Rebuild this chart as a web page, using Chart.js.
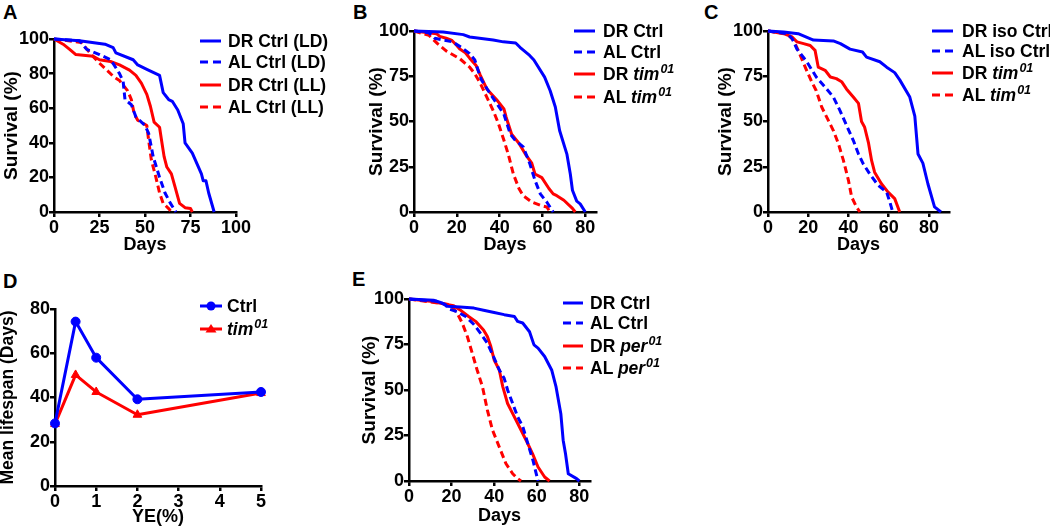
<!DOCTYPE html>
<html><head><meta charset="utf-8">
<script src="https://cdn.jsdelivr.net/npm/chart.js@4"></script>
<style>
body{margin:0;width:1050px;height:530px;background:#fff;position:relative;overflow:hidden;font-family:'Liberation Sans',Arial,sans-serif;font-weight:bold;color:#000}
canvas{position:absolute}
.plbl{position:absolute;font-size:20px;line-height:20px}
.ltxt{position:absolute;font-size:17.5px;line-height:20px;white-space:nowrap}
.lsym{position:absolute}
sup{font-size:12.5px;position:relative;top:-0.6em;vertical-align:baseline;margin-left:1px}
</style></head><body>
<div class="plbl" style="left:3px;top:2px">A</div>
<div class="plbl" style="left:353px;top:2px">B</div>
<div class="plbl" style="left:704px;top:2px">C</div>
<div class="plbl" style="left:3px;top:271px">D</div>
<div class="plbl" style="left:352px;top:269px">E</div>
<canvas id="cA"></canvas><canvas id="cB"></canvas><canvas id="cC"></canvas><canvas id="cD"></canvas><canvas id="cE"></canvas>
<script>
// ---------- Panel A ----------
const aXTicks = [0, 25, 50, 75, 100];
const aYTicks = [0, 20, 40, 60, 80, 100];
const aDrLdDays = [0,14,28,32.5,34,43.5,46,51,58,60,63,65,68,71,72,76,81,82,83.5,85,88];
const aDrLdSurv = [100,99,97,95,92,88,85,82.5,79,69,65,64,59,51,40,34,22,18,18,11,0];
const aAlLdDays = [0,14,18,25,31,33,36,38,39,42.5,45,47,50,52,54.5,58,61,64,67];
const aAlLdSurv = [100,99,94,91,88,85,80,75.5,65,62,55,53,50,45.5,32,20,11,5,0];
const aDrLlDays = [0,5,8.6,12,21.5,25,31,36,41.5,45,48,51,53,55,58,59,60.5,62,64.5,66.5,69,72,75,76];
const aDrLlSurv = [100,97,94,91,90,88,87,85,82,79,74.5,68,61,52,49,42,32,26,22,14.5,5,2.5,2,0];
const aAlLlDays = [0,15,20.5,25,29,33,36,40.5,42.5,44,46,51,52,53.5,56,58,60,63,64.5];
const aAlLlSurv = [100,98,91,86,82,78,76,70,65,57,53,50,41.5,30,20,11,5,2,0];
// ---------- Panel B ----------
const survYTicks = [0, 25, 50, 75, 100];
const bXTicks = [0, 20, 40, 60, 80];
const bDrCtrlDays = [0,13.6,23,26,37,41.7,47.5,49.5,54,56,61,63.6,66,68,71.4,73,74,76,77.6,80];
const bDrCtrlSurv = [100,99.5,98,96.7,95,94,93.4,91,86.5,84,74.5,67,58,45,32,21,12,6,4.5,0];
const bAlCtrlDays = [0,7,9.7,13.6,18,22,26,28.4,30,31.5,35.5,38.6,42,45,47,51,54,56.5,59,62,65];
const bAlCtrlSurv = [100,99,96,95,94,91,87.5,84,78,73,65.5,60,54,43,40,36,27,17.5,10,5.5,0];
const bDrTimDays = [0,10.5,12,15,17.5,20,21.4,24,26,29,31,34,38.6,42,43,45.6,49,52,55,56.5,59.7,63,65,66.7,70,74,75.3];
const bDrTimSurv = [100,98.5,97,96,95,92,90,88,85,81,75.5,68,62,57,52.5,43,38,32,27,21,19,13,10,9,6.5,2,0];
const bAlTimDays = [0,7,11,15,21.4,26,28.4,31,34,37,39.4,42,44,46.4,49,51,55,59,62,63.6];
const bAlTimSurv = [100,97.6,93,89,84.7,80,76.4,71,63.5,56,49,39.6,32,21,13,9,5.5,3.7,2.8,0];
// ---------- Panel C ----------
const cXTicks = [0, 20, 40, 60, 80];
const cDrCtrlDays = [0,7.8,15,22.6,32.5,36,40.8,47,49,55.6,59,63,65.5,70.5,73,74.6,77,79.5,82.8,86];
const cDrCtrlSurv = [100,99.5,98.5,95,94.5,93,90,88.4,85.6,83,80,77,73,63.5,53,32,27,15.6,2.8,0];
const cAlCtrlDays = [0,9.4,12,14.4,19.3,24,28.4,32.5,35.8,39,42.4,45,47.3,50.6,54.8,59,60.6,62];
const cAlCtrlSurv = [100,98.5,95.8,90,83,74.6,69,63.5,56,48,39.6,32,26.7,21,14.7,11,5.5,0];
const cDrTimDays = [0,7.8,12,14.4,17.7,21,23.4,25,28.4,31,34,36.6,39,42.4,45,46.5,48,50,51.5,53,56.4,59.7,63,65.5];
const cDrTimSurv = [100,98.5,96.7,94,93,92,89.3,80,78.3,74.6,73.7,72,68,63.5,60,50,47,38,28.5,22,15.6,11,7.4,0];
const cAlTimDays = [0,9.4,12.7,15,19.3,21.8,24,26.7,30,32.5,35,37.5,40,41.6,44,45.7];
const cAlTimSurv = [100,98.5,95,89.3,78,71.8,67,58,50.6,45,37.8,28.5,17.5,8.3,2.8,0];
// ---------- Panel D ----------
const dXTicks = [0, 1, 2, 3, 4, 5];
const dYTicks = [0, 20, 40, 60, 80];
const dYe = [0, 0.5, 1, 2, 5];
const dCtrl = [28.3, 74.3, 58, 39.2, 42.5];
const dTim = [28, 50.2, 42.5, 32.2, 42];
// ---------- Panel E ----------
const eXTicks = [0, 20, 40, 60, 80];
const eDrCtrlDays = [0,11.5,15.5,17.9,24,30.5,35,40,44.7,49.5,51,53.4,56.6,58.7,60.6,63.7,67,69,71.3,72.4,73.5,74.8,78.7,80];
const eDrCtrlSurv = [100,99.3,97.8,96,95.6,95,93.8,92.6,91.4,90.4,87.7,86.8,82,74.8,73,68.4,61,52,37,22.4,15,4,1.3,0];
const eAlCtrlDays = [0,13,17,18.7,22.6,26.6,30.5,33.7,36.8,40,42.4,44.7,46.3,48.7,51,53.4,55.8,58.2,60.6];
const eAlCtrlSurv = [100,98.7,97,94.5,93,90.4,86,81,75.7,67.5,61,56.4,50,42.6,35.3,30,20.6,11.4,0];
const eDrPerDays = [0,10,21,24,28,31.3,35,36.8,38.4,40,42.4,44,46.3,48.7,52.6,55,58,60.6,63.7,66];
const eDrPerSurv = [100,98.7,96.3,94,90.4,87.7,83,79.4,74,66.5,61,52,42.6,37,28,22.4,15,7.7,2.2,0];
const eAlPerDays = [0,19.4,22.6,25,27.4,29.7,32,34.5,36.8,39.2,42.4,45.5,48.7,51,52.6];
const eAlPerSurv = [100,96.9,92.3,86.8,79.4,70.2,61,51.8,39,28,18.7,9.6,4,1.3,0];

const BLUE = '#0000ff', RED = '#ff0000';
const FONT = "'Liberation Sans', Arial, sans-serif";
const DASH = [7, 4];

function pts(xs, ys) { return xs.map((x, i) => ({x: x, y: ys[i]})); }
function ser(xs, ys, color, dashed) {
  return {data: pts(xs, ys), borderColor: color, backgroundColor: color, borderWidth: 3,
    borderDash: dashed ? DASH : [], pointRadius: 0, clip: false, fill: false, tension: 0,
    borderJoinStyle: 'round'};
}
function scale(isX, min, max, tickVals, title, tSize, fit) {
  return {
    type: 'linear', min: min, max: max, position: isX ? 'bottom' : 'left',
    afterBuildTicks: s => { s.ticks = tickVals.map(v => ({value: v})); },
    afterFit: s => { if (isX) s.height = fit; else s.width = fit; },
    grid: {drawOnChartArea: false, drawTicks: true, tickLength: 5, tickWidth: 2.5, tickColor: '#000', lineWidth: 2.5, color: '#000'},
    border: {display: true, color: '#000', width: 2.5},
    ticks: {color: '#000', font: {family: FONT, size: 18, weight: 'bold'}, padding: 0, autoSkip: false, maxRotation: 0},
    title: {display: true, text: title, color: '#000', font: {family: FONT, size: tSize, weight: 'bold'}, padding: 0}
  };
}
function make(id, g, datasets, xs, ys) {
  const padTop = 12, padRight = 25;
  const c = document.getElementById(id);
  const W = g.Wy + (g.X1 - g.X0) + padRight, H = padTop + (g.Yb - g.Yt) + g.Hx;
  c.width = W; c.height = H;
  c.style.left = (g.X0 - g.Wy) + 'px'; c.style.top = (g.Yt - padTop) + 'px';
  c.style.width = W + 'px'; c.style.height = H + 'px';
  new Chart(c, {
    type: 'line',
    data: {datasets: datasets},
    options: {
      responsive: false, animation: false, devicePixelRatio: 1,
      layout: {padding: {top: padTop, right: padRight, left: 0, bottom: 0}},
      plugins: {legend: {display: false}, tooltip: {enabled: false}},
      scales: {x: xs, y: ys}
    }
  });
}

make('cA', {X0: 54, X1: 236, Yt: 39, Yb: 212, Wy: 54, Hx: 44}, [
  ser(aDrLdDays, aDrLdSurv, BLUE, false), ser(aAlLdDays, aAlLdSurv, BLUE, true),
  ser(aDrLlDays, aDrLlSurv, RED, false), ser(aAlLlDays, aAlLlSurv, RED, true)],
  scale(true, 0, 100, aXTicks, 'Days', 18, 44), scale(false, 0, 100, aYTicks, 'Survival (%)', 19, 54));

make('cB', {X0: 414, X1: 596, Yt: 31, Yb: 212, Wy: 49, Hx: 44}, [
  ser(bDrCtrlDays, bDrCtrlSurv, BLUE, false), ser(bAlCtrlDays, bAlCtrlSurv, BLUE, true),
  ser(bDrTimDays, bDrTimSurv, RED, false), ser(bAlTimDays, bAlTimSurv, RED, true)],
  scale(true, 0, 85, bXTicks, 'Days', 18, 44), scale(false, 0, 100, survYTicks, 'Survival (%)', 19, 49));

make('cC', {X0: 768, X1: 949, Yt: 31, Yb: 212, Wy: 54, Hx: 44}, [
  ser(cDrCtrlDays, cDrCtrlSurv, BLUE, false), ser(cAlCtrlDays, cAlCtrlSurv, BLUE, true),
  ser(cDrTimDays, cDrTimSurv, RED, false), ser(cAlTimDays, cAlTimSurv, RED, true)],
  scale(true, 0, 90, cXTicks, 'Days', 18, 44), scale(false, 0, 100, survYTicks, 'Survival (%)', 19, 54));

const dSets = [
  Object.assign(ser(dYe, dCtrl, BLUE, false), {pointRadius: 4.5, pointStyle: 'circle', pointBackgroundColor: BLUE, pointBorderColor: BLUE, pointBorderWidth: 1}),
  Object.assign(ser(dYe, dTim, RED, false), {pointRadius: 5, pointStyle: 'triangle', pointBackgroundColor: RED, pointBorderColor: RED, pointBorderWidth: 1})
];
make('cD', {X0: 55, X1: 261, Yt: 309, Yb: 486, Wy: 57, Hx: 42}, dSets,
  scale(true, 0, 5, dXTicks, 'YE(%)', 18, 42), scale(false, 0, 80, dYTicks, 'Mean lifespan (Days)', 17.5, 57));

make('cE', {X0: 409, X1: 590, Yt: 299, Yb: 481, Wy: 51, Hx: 46}, [
  ser(eDrCtrlDays, eDrCtrlSurv, BLUE, false), ser(eAlCtrlDays, eAlCtrlSurv, BLUE, true),
  ser(eDrPerDays, eDrPerSurv, RED, false), ser(eAlPerDays, eAlPerSurv, RED, true)],
  scale(true, 0, 85, eXTicks, 'Days', 18, 46), scale(false, 0, 100, survYTicks, 'Survival (%)', 19, 51));

// ---------- Legends (HTML) ----------
function sym(color, dashed, marker, w) {
  let s = '<svg width="' + w + '" height="14" xmlns="http://www.w3.org/2000/svg">' +
    '<line x1="0" y1="7" x2="' + w + '" y2="7" stroke="' + color + '" stroke-width="3"' +
    (dashed ? ' stroke-dasharray="8 5"' : '') + '/>';
  const m = w / 2;
  if (marker === 'circle') s += '<circle cx="' + m + '" cy="7" r="4.5" fill="' + color + '"/>';
  if (marker === 'triangle') s += '<polygon points="' + (m - 5.5) + ',10.5 ' + (m + 5.5) + ',10.5 ' + m + ',2" fill="' + color + '"/>';
  return s + '</svg>';
}
function legend(lineX, lineW, textX, rows) {
  rows.forEach(r => {
    const d = document.createElement('div');
    d.className = 'lsym'; d.style.left = lineX + 'px'; d.style.top = (r.y - 7) + 'px';
    d.innerHTML = sym(r.color, r.dashed, r.marker, lineW);
    document.body.appendChild(d);
    const t = document.createElement('div');
    t.className = 'ltxt'; t.style.left = textX + 'px'; t.style.top = (r.y - 10) + 'px';
    t.innerHTML = r.html;
    document.body.appendChild(t);
  });
}
const TIM = '<i>tim<sup>01</sup></i>', PER = '<i>per<sup>01</sup></i>';
legend(200, 21, 228, [
  {y: 41, color: BLUE, html: 'DR Ctrl (LD)'}, {y: 62, color: BLUE, dashed: true, html: 'AL Ctrl (LD)'},
  {y: 85, color: RED, html: 'DR Ctrl (LL)'}, {y: 107, color: RED, dashed: true, html: 'AL Ctrl (LL)'}]);
legend(574, 21, 603, [
  {y: 31, color: BLUE, html: 'DR Ctrl'}, {y: 52, color: BLUE, dashed: true, html: 'AL Ctrl'},
  {y: 74, color: RED, html: 'DR ' + TIM}, {y: 97, color: RED, dashed: true, html: 'AL ' + TIM}]);
legend(932, 21, 962, [
  {y: 31, color: BLUE, html: 'DR iso Ctrl'}, {y: 51, color: BLUE, dashed: true, html: 'AL iso Ctrl'},
  {y: 73, color: RED, html: 'DR ' + TIM}, {y: 95, color: RED, dashed: true, html: 'AL ' + TIM}]);
legend(200, 22, 227, [
  {y: 306, color: BLUE, marker: 'circle', html: 'Ctrl'}, {y: 329, color: RED, marker: 'triangle', html: TIM}]);
legend(563, 20, 590, [
  {y: 303, color: BLUE, html: 'DR Ctrl'}, {y: 323, color: BLUE, dashed: true, html: 'AL Ctrl'},
  {y: 346, color: RED, html: 'DR ' + PER}, {y: 368, color: RED, dashed: true, html: 'AL ' + PER}]);
</script>
</body></html>
